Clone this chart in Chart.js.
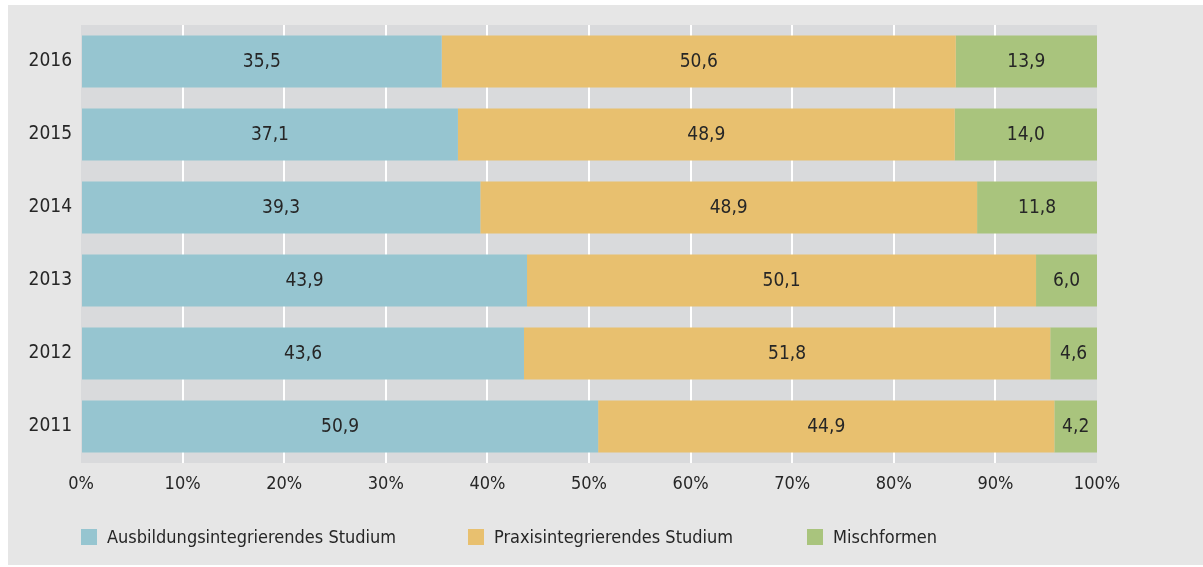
<!DOCTYPE html>
<html>
<head>
<meta charset="utf-8">
<style>
  html, body { margin: 0; padding: 0; background: #ffffff; }
  #wrap { width: 1203px; height: 567px; position: relative; }
</style>
<script src="https://cdn.jsdelivr.net/npm/chart.js@4"></script>
</head>
<body>
<div id="wrap"><canvas id="c" width="1203" height="567"></canvas></div>
<script>
const categories = ['2016', '2015', '2014', '2013', '2012', '2011'];
const seriesNames = ['Ausbildungsintegrierendes Studium', 'Praxisintegrierendes Studium', 'Mischformen'];
const ausbildung = [35.5, 37.1, 39.3, 43.9, 43.6, 50.9];
const praxis = [50.6, 48.9, 48.9, 50.1, 51.8, 44.9];
const misch = [13.9, 14.0, 11.8, 6.0, 4.6, 4.2];
const xTicks = [0, 10, 20, 30, 40, 50, 60, 70, 80, 90, 100];

const FONT = "'DejaVu Sans Condensed', 'Liberation Sans Narrow', sans-serif";
const TEXT = '#262626';
const colors = ['#96c5d0', '#e8c06f', '#a9c47d'];

const bgPlugin = {
  id: 'bg',
  beforeDraw(chart) {
    const ctx = chart.ctx;
    ctx.save();
    ctx.fillStyle = '#ffffff';
    ctx.fillRect(0, 0, chart.width, chart.height);
    ctx.fillStyle = '#e6e6e6';
    ctx.fillRect(8, 5, chart.width - 8, chart.height - 7);
    const a = chart.chartArea;
    ctx.fillStyle = '#d9dadc';
    ctx.fillRect(a.left, a.top, a.right - a.left, a.bottom - a.top);
    ctx.restore();
  }
};

const valueLabels = {
  id: 'valueLabels',
  afterDatasetsDraw(chart) {
    const ctx = chart.ctx;
    ctx.save();
    ctx.font = '19px ' + FONT;
    ctx.fillStyle = TEXT;
    ctx.textAlign = 'center';
    ctx.textBaseline = 'middle';
    chart.data.datasets.forEach((ds, di) => {
      const meta = chart.getDatasetMeta(di);
      meta.data.forEach((bar, i) => {
        const v = ds.data[i];
        const p = bar.getProps(['x', 'y', 'base'], true);
        const cx = (p.x + p.base) / 2;
        ctx.fillText(v.toFixed(1).replace('.', ','), cx, p.y + 1);
      });
    });
    ctx.restore();
  }
};

const legendPlugin = {
  id: 'customLegend',
  afterDraw(chart) {
    const ctx = chart.ctx;
    const xs = [81, 468, 807];
    const y = 537;
    ctx.save();
    ctx.font = '18px ' + FONT;
    ctx.textBaseline = 'middle';
    ctx.textAlign = 'left';
    seriesNames.forEach((name, i) => {
      ctx.fillStyle = colors[i];
      ctx.fillRect(xs[i], y - 8, 16, 16);
      ctx.fillStyle = TEXT;
      ctx.fillText(name, xs[i] + 26, y + 1);
    });
    ctx.restore();
  }
};

new Chart(document.getElementById('c'), {
  type: 'bar',
  data: {
    labels: categories,
    datasets: [
      { label: seriesNames[0], data: ausbildung, backgroundColor: colors[0] },
      { label: seriesNames[1], data: praxis, backgroundColor: colors[1] },
      { label: seriesNames[2], data: misch, backgroundColor: colors[2] }
    ]
  },
  options: {
    indexAxis: 'y',
    responsive: false,
    animation: false,
    devicePixelRatio: 1,
    layout: { padding: { left: 0, top: 25, right: 106, bottom: 0 } },
    datasets: { bar: { categoryPercentage: 1, barPercentage: 0.71, borderWidth: 0 } },
    plugins: { legend: { display: false }, tooltip: { enabled: false } },
    scales: {
      x: {
        stacked: true,
        min: 0, max: 100,
        afterBuildTicks(scale) { scale.ticks = xTicks.map(v => ({ value: v })); },
        afterFit(scale) { scale.height = 104; },
        border: { display: false },
        grid: {
          drawTicks: false,
          lineWidth: 2,
          color: (c) => (c.tick && (c.tick.value === 0 || c.tick.value === 100)) ? 'rgba(0,0,0,0)' : '#ffffff'
        },
        ticks: {
          padding: 11,
          color: TEXT,
          font: { family: FONT, size: 18 },
          callback: (v) => v + '%'
        }
      },
      y: {
        stacked: true,
        afterFit(scale) { scale.width = 81; },
        border: { display: false },
        grid: { display: false, drawTicks: false },
        ticks: { padding: 9, color: TEXT, font: { family: FONT, size: 19 } }
      }
    }
  },
  plugins: [bgPlugin, valueLabels, legendPlugin]
});
</script>
</body>
</html>
